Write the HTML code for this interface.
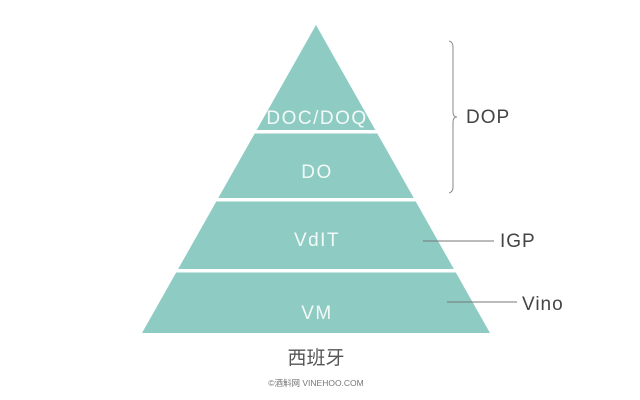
<!DOCTYPE html>
<html><head><meta charset="utf-8"><style>
html,body{margin:0;padding:0;background:#fff;}
svg{display:block}
</style></head><body>
<svg width="640" height="400" viewBox="0 0 640 400" xmlns="http://www.w3.org/2000/svg">
<rect width="640" height="400" fill="#fff"/>
<polygon points="316,25 142,333 490,333" fill="#8ecbc2"/>
<rect x="100" y="130" width="440" height="3.5" fill="#fff"/>
<rect x="100" y="198" width="440" height="3.5" fill="#fff"/>
<rect x="100" y="269" width="440" height="3.5" fill="#fff"/>
<g font-family="Liberation Sans, sans-serif" font-size="19" fill="#f2faf8" text-anchor="middle" letter-spacing="1.5">
<text x="317" y="124">DOC/DOQ</text>
<text x="317" y="178">DO</text>
<text x="317" y="246">VdIT</text>
<text x="317" y="319">VM</text>
</g>
<path d="M449,41 Q453,42 453,47 L453,112 Q453,117 457,117 Q453,117 453,122 L453,187 Q453,192 449,193" fill="none" stroke="#888" stroke-width="1"/>
<line x1="423" y1="241" x2="494" y2="241" stroke="#777" stroke-width="1"/>
<line x1="447" y1="302" x2="517" y2="302" stroke="#777" stroke-width="1"/>
<g font-family="Liberation Sans, sans-serif" font-size="19" fill="#444" letter-spacing="1">
<text x="466" y="123">DOP</text>
<text x="500" y="247">IGP</text>
<text x="522" y="310">Vino</text>
</g>
<text x="316" y="364" text-anchor="middle" font-family="Liberation Sans, Noto Sans CJK SC, sans-serif" font-size="19" fill="#555">西班牙</text>
<text x="316" y="386" text-anchor="middle" font-family="Liberation Sans, Noto Sans CJK SC, sans-serif" font-size="8.5" fill="#777">©酒斛网 VINEHOO.COM</text>
</svg>
</body></html>
